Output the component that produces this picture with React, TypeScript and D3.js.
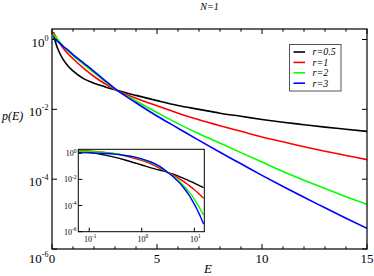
import React from "react";
import * as d3 from "d3";

const W = 374;
const H = 276;

const title = "N=1";
const xLabel = "E";
const yLabel = "p(E)";

// energies at which the curves were read
const energies = [0.06, 0.1, 0.2, 0.3, 0.5, 0.75, 1, 1.5, 2, 2.5, 3, 4, 5, 6, 7, 8, 9, 10, 11, 12, 13, 14, 15];
// log10 p(E) (the y axis is logarithmic)
const log10P_r05 = [0.2, 0.08, -0.14, -0.3, -0.54, -0.75, -0.9, -1.12, -1.25, -1.35, -1.44, -1.6, -1.75, -1.89, -2.0, -2.11, -2.2, -2.29, -2.37, -2.44, -2.51, -2.57, -2.63];
const log10P_r1 = [0.22, 0.17, 0.06, -0.04, -0.22, -0.4, -0.55, -0.82, -1.06, -1.26, -1.43, -1.68, -1.9, -2.11, -2.3, -2.47, -2.63, -2.79, -2.93, -3.07, -3.2, -3.32, -3.44];
const log10P_r2 = [0.17, 0.13, 0.05, -0.02, -0.17, -0.32, -0.46, -0.71, -0.95, -1.19, -1.42, -1.76, -2.09, -2.41, -2.7, -2.97, -3.24, -3.51, -3.78, -4.03, -4.27, -4.5, -4.72];
const log10P_r3 = [0.05, 0.03, -0.02, -0.07, -0.18, -0.3, -0.43, -0.67, -0.91, -1.16, -1.41, -1.81, -2.19, -2.54, -2.89, -3.23, -3.56, -3.89, -4.21, -4.52, -4.82, -5.12, -5.41];

const seriesNames = ["r=0.5", "r=1", "r=2", "r=3"];
const seriesColors = ["#000000", "#ff0000", "#00ff00", "#0000ff"];
const seriesLogs = [log10P_r05, log10P_r1, log10P_r2, log10P_r3];

const xTicksMajor = [0, 5, 10, 15];
const xTicksMinor = [1, 2, 3, 4, 6, 7, 8, 9, 11, 12, 13, 14];
const yTickExps = [0, -2, -4, -6];
const insetXTickExps = [-1, 0, 1];
const insetYTickExps = [0, -2, -4, -6];

const FONT = "Liberation Serif, Times New Roman, Times, Nimbus Roman, DejaVu Serif, Noto Serif, serif";

type Pt = { e: number; p: number };
const series: Pt[][] = seriesLogs.map((logs) => energies.map((e, i) => ({ e, p: Math.pow(10, logs[i]) })));

function Pow10({ x, y, exp, size, supSize, anchor }: { x: number; y: number; exp: number; size: number; supSize: number; anchor: string }) {
  return (
    <text x={x} y={y} style={{ fontFamily: FONT }} fontSize={size} textAnchor={anchor} fill="#000">
      10
      <tspan fontSize={supSize} dy={-size * 0.45}>{String(exp)}</tspan>
    </text>
  );
}

export default function App() {
  // main plot
  const L = 52, R = 367, T = 29, B = 249;
  const x = d3.scaleLinear().domain([0, 15]).range([L, R]);
  const y = d3.scaleLog().domain([1e-6, 2]).range([B, T]);

  // inset
  const iL = 78.3, iR = 204.3, iT = 149.3, iB = 231.7;
  const ix = d3.scaleLog().domain([0.062, 15.5]).range([iL, iR]);
  const iy = d3.scaleLog().domain([1e-6, 2]).range([iB, iT]);

  const line = d3.line<Pt>().x((d) => x(d.e)).y((d) => y(d.p)).curve(d3.curveMonotoneX);
  const iline = d3.line<Pt>().x((d) => ix(d.e)).y((d) => iy(d.p)).curve(d3.curveMonotoneX);

  const legX = 289.5, legY = 44.5, legW = 51.5, legH = 46.5;
  const txt = { fontFamily: FONT };

  return (
    <svg width={W} height={H} style={{ position: "absolute", left: 0, top: 0, background: "#fff" }}>
      <defs>
        <clipPath id="mainClip"><rect x={L} y={T} width={R - L} height={B - T} /></clipPath>
        <clipPath id="insetClip"><rect x={iL} y={iT} width={iR - iL} height={iB - iT} /></clipPath>
      </defs>
      <rect x={0} y={0} width={W} height={H} fill="#fff" />
      <text x={(L + R) / 2} y={10} style={txt} fontStyle="italic" fontSize={10} textAnchor="middle">{title}</text>

      {/* main curves */}
      <g clipPath="url(#mainClip)">
        {series.map((s, i) => (
          <path key={i} d={line(s) || ""} fill="none" stroke={seriesColors[i]} strokeWidth={1.6} />
        ))}
      </g>

      {/* main frame */}
      <rect x={L} y={T} width={R - L} height={B - T} fill="none" stroke="#000" strokeWidth={1.2} />
      {xTicksMajor.map((t) => (
        <g key={"xM" + t}>
          <line x1={x(t)} x2={x(t)} y1={B} y2={B - 5} stroke="#000" />
          <line x1={x(t)} x2={x(t)} y1={T} y2={T + 5} stroke="#000" />
          <text x={x(t)} y={263} style={txt} fontSize={13} textAnchor="middle">{t}</text>
        </g>
      ))}
      {xTicksMinor.map((t) => (
        <g key={"xm" + t}>
          <line x1={x(t)} x2={x(t)} y1={B} y2={B - 2.7} stroke="#000" />
          <line x1={x(t)} x2={x(t)} y1={T} y2={T + 2.7} stroke="#000" />
        </g>
      ))}
      {yTickExps.map((e) => (
        <g key={"y" + e}>
          <line x1={L} x2={L + 5} y1={y(Math.pow(10, e))} y2={y(Math.pow(10, e))} stroke="#000" />
          <line x1={R} x2={R - 5} y1={y(Math.pow(10, e))} y2={y(Math.pow(10, e))} stroke="#000" />
          <Pow10 x={48.5} y={y(Math.pow(10, e)) + (e === -6 ? 14 : 7)} exp={e} size={13} supSize={8} anchor="end" />
        </g>
      ))}
      <text x={208} y={273} style={txt} fontStyle="italic" fontSize={13} textAnchor="middle">{xLabel}</text>
      <text x={2} y={120} style={txt} fontStyle="italic" fontSize={12}>{yLabel}</text>

      {/* legend */}
      <rect x={legX} y={legY} width={legW} height={legH} fill="#fff" stroke="#555" strokeWidth={1} />
      {seriesNames.map((n, i) => (
        <g key={n}>
          <line x1={293.5} x2={305} y1={52 + i * 10.4} y2={52 + i * 10.4} stroke={seriesColors[i]} strokeWidth={1.6} />
          <text x={312.5} y={52 + i * 10.4 + 3.3} style={txt} fontStyle="italic" fontSize={10}>{n}</text>
        </g>
      ))}

      {/* inset */}
      <rect x={iL} y={iT} width={iR - iL} height={iB - iT} fill="#fff" />
      <g clipPath="url(#insetClip)">
        {series.map((s, i) => (
          <path key={i} d={iline(s) || ""} fill="none" stroke={seriesColors[i]} strokeWidth={1.4} />
        ))}
      </g>
      <rect x={iL} y={iT} width={iR - iL} height={iB - iT} fill="none" stroke="#000" strokeWidth={1} />
      {insetXTickExps.map((e) => (
        <g key={"ix" + e}>
          <line x1={ix(Math.pow(10, e))} x2={ix(Math.pow(10, e))} y1={iB} y2={iB - 4} stroke="#000" />
          <Pow10 x={ix(Math.pow(10, e)) + 1} y={242} exp={e} size={8} supSize={5.5} anchor="middle" />
        </g>
      ))}
      {insetYTickExps.map((e) => (
        <g key={"iy" + e}>
          <line x1={iL} x2={iL + 4} y1={iy(Math.pow(10, e))} y2={iy(Math.pow(10, e))} stroke="#000" />
          <Pow10 x={76.5} y={iy(Math.pow(10, e)) + 3} exp={e} size={8} supSize={5.5} anchor="end" />
        </g>
      ))}
    </svg>
  );
}
